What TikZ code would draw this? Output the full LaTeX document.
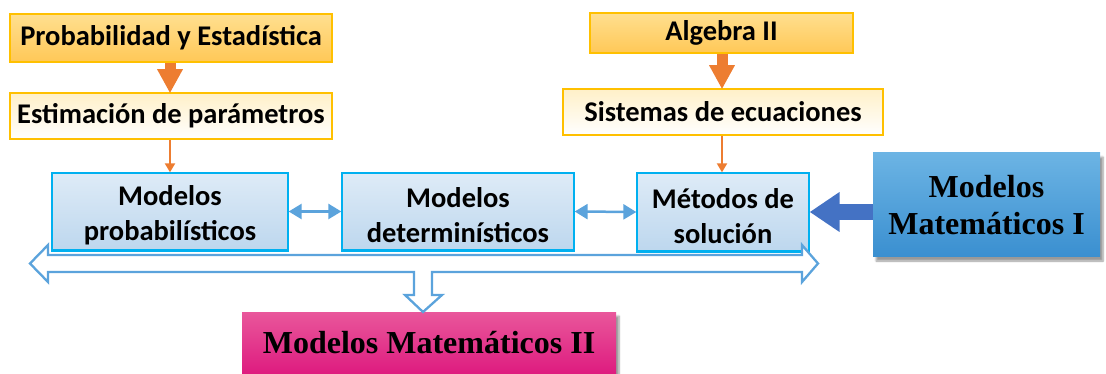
\documentclass[tikz,border=0pt]{standalone}
\usepackage{fontspec}
\setmainfont{Liberation Serif}
\newfontfamily\carl{Carlito}
\usetikzlibrary{arrows.meta,shadows.blur}
\definecolor{orarrow}{HTML}{ED7D31}
\definecolor{goldb}{HTML}{FFC000}
\definecolor{cyanb}{HTML}{00B0F0}
\definecolor{ltblue}{HTML}{5BA3DC}
\definecolor{dkblue}{HTML}{4472C4}
\newcommand{\lowr}{\rule{0pt}{28pt}}
\tikzset{
  orbox/.style={draw=goldb, line width=1.5pt, inner sep=0pt, font=\carl\bfseries\fontsize{28.5}{32}\selectfont},
  strongor/.style={orbox, top color={rgb,255:red,255;green,223;blue,143}, bottom color={rgb,255:red,255;green,200;blue,87}},
  lightor/.style={orbox, top color={rgb,255:red,255;green,240;blue,200}, bottom color=white},
  bluebox/.style={draw=cyanb, line width=1.3pt, inner sep=0pt, align=center,
    top color={rgb,255:red,222;green,235;blue,247}, bottom color={rgb,255:red,189;green,215;blue,238},
    font=\carl\bfseries\fontsize{28.5}{35}\selectfont},
  bigbox/.style={inner sep=0pt, align=center, font=\bfseries\fontsize{32}{37}\selectfont,
    blur shadow={shadow xshift=3pt, shadow yshift=-4pt, shadow blur steps=6}},
  thickor/.style={draw=orarrow, line width=11pt, -{Triangle[length=24pt,width=24pt]}, shorten >=-1pt},
  thinor/.style={draw=orarrow, line width=2pt, -{Triangle[length=9pt,width=10pt]}},
  dbl/.style={draw=ltblue, line width=2.5pt, {Triangle[length=13pt,width=15pt]}-{Triangle[length=13pt,width=15pt]}},
}
\begin{document}
\begin{tikzpicture}[x=1pt,y=-1pt]
\useasboundingbox (0,0) rectangle (1106,374);
% top left chain
\node[strongor, minimum width=322pt, minimum height=48pt] (pe) at (171,38) {Probabilidad y Estadística};
\node[lightor, minimum width=322pt, minimum height=46pt] (ep) at (171,116) {Estimación de parámetros};
% top right chain
\node[strongor, minimum width=263pt, minimum height=40pt] (al) at (721.5,33) {Algebra II};
\node[lightor, minimum width=320pt, minimum height=46pt] (se) at (723,112) {Sistemas de ecuaciones};
% middle row
\node[bluebox, minimum width=236pt, minimum height=77pt] (mp) at (170,211.5) {\lowr Modelos\\probabilísticos};
\node[bluebox, minimum width=232pt, minimum height=77pt] (md) at (458,211.5) {\lowr Modelos\\determinísticos};
\node[bluebox, minimum width=172pt, minimum height=78pt] (ms) at (723,212) {\lowr Métodos de\\solución};
\foreach \n in {mp,md,ms}{\draw[cyanb, line width=3pt] (\n.south west) -- (\n.south east);}
% big boxes
\node[bigbox, top color={rgb,255:red,108;green,180;blue,228}, bottom color={rgb,255:red,58;green,143;blue,208},
  minimum width=227pt, minimum height=104pt] (m1) at (986.5,205) {Modelos\\Matemáticos I};
\node[bigbox, top color={rgb,255:red,233;green,87;blue,155}, bottom color={rgb,255:red,222;green,27;blue,127},
  minimum width=374pt, minimum height=62pt] (m2) at (429,343) {Modelos Matemáticos II};
% arrows
\draw[thickor] (pe.south -| 170,0) -- (ep.north -| 170,0);
\draw[thickor] (al.south -| 722,0) -- (se.north -| 722,0);
\draw[thinor] (ep.south -| 170,0) -- (mp.north);
\draw[thinor] (se.south -| 722,0) -- (ms.north -| 722,0);
\draw[dbl] (mp.east) -- (md.west);
\draw[dbl] (md.east) -- (ms.west);
\draw[dkblue, line width=16pt, -{Triangle[length=30pt,width=38pt]}] (ms.east -| m1.west) -- (ms.east);
% three-way outline arrow
\coordinate (lt) at (30,263.5);
\coordinate (rt) at (818,263.5);
\coordinate (dt) at (423,312);
\draw[ltblue, line width=2.3pt, fill=white, line join=miter]
  (lt) -- (48,245) -- (48,255) -- (802,255) -- (802,245) -- (rt) -- (802,282) -- (802,272)
  -- (432,272) -- (432,295) -- (442,295) -- (dt) -- (405,295) -- (414,295) -- (414,272)
  -- (48,272) -- (48,282) -- cycle;
\end{tikzpicture}
\end{document}
